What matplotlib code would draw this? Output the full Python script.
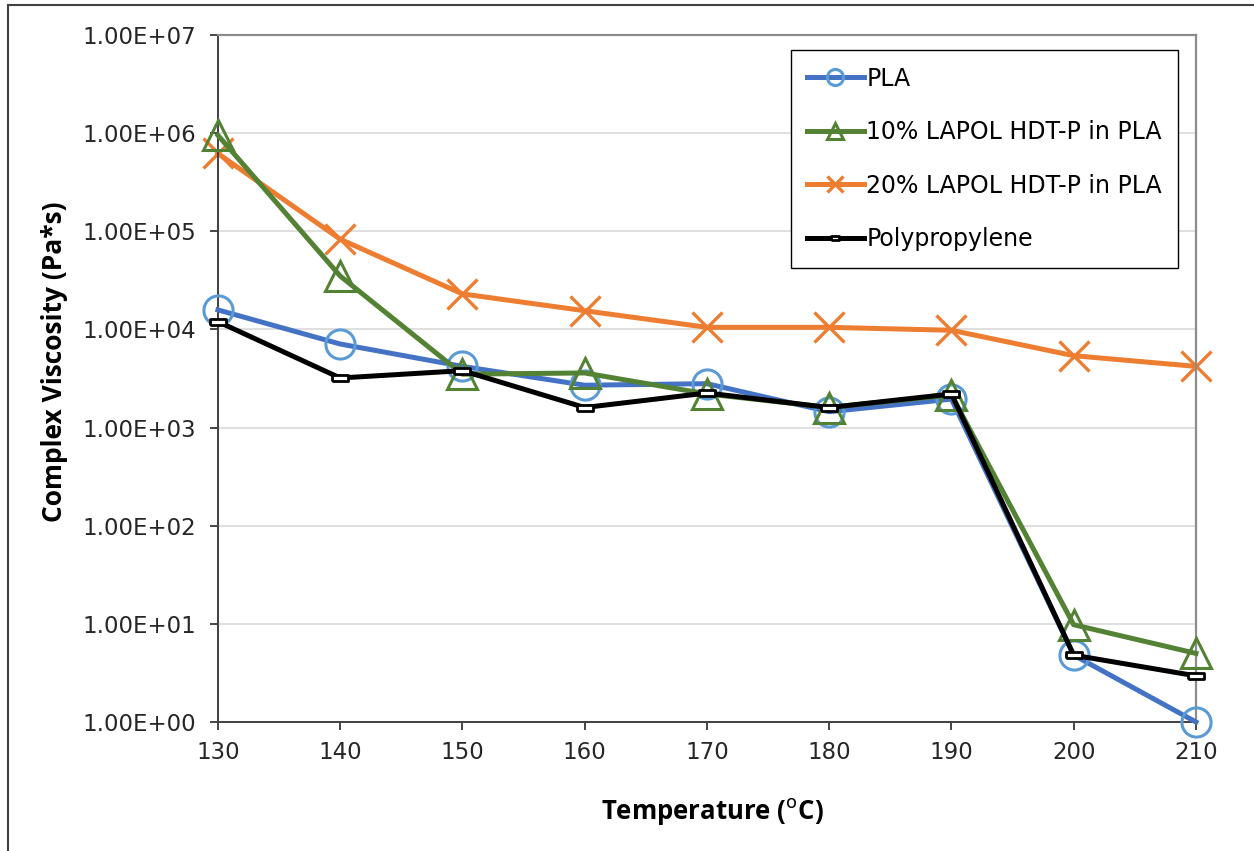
import matplotlib
matplotlib.use("Agg")
import matplotlib.pyplot as plt
from matplotlib.patches import Rectangle
from matplotlib.ticker import FixedLocator, FuncFormatter

temps = [130, 140, 150, 160, 170, 180, 190, 200, 210]
pla = [1.58e4, 7.1e3, 4.2e3, 2.7e3, 2.8e3, 1.45e3, 1.95e3, 4.8, 1.0]
lapol10 = [9.5e5, 3.5e4, 3.5e3, 3.6e3, 2.2e3, 1.6e3, 2.15e3, 9.8, 5.0]
lapol20 = [6.2e5, 8.3e4, 2.3e4, 1.55e4, 1.05e4, 1.05e4, 9.8e3, 5.4e3, 4.2e3]
pp = [1.2e4, 3.2e3, 3.8e3, 1.6e3, 2.25e3, 1.6e3, 2.2e3, 4.8, 2.95]
series_names = ["PLA", "10% LAPOL HDT-P in PLA", "20% LAPOL HDT-P in PLA", "Polypropylene"]
y_ticks = [1e0, 1e1, 1e2, 1e3, 1e4, 1e5, 1e6, 1e7]

plt.rcParams['font.family'] = ['DejaVu Sans']

fig = plt.figure(figsize=(12.54, 8.51), dpi=100)
ax = fig.add_axes([0.1738, 0.1516, 0.9537 - 0.1738, 0.9589 - 0.1516])

# outer chart border
fig.patches.append(Rectangle((0.0066, -0.05), 1.1, 1.044, transform=fig.transFigure,
                             fill=False, edgecolor='#404040', linewidth=1.5))

rect_marker = [(-1, -0.45), (1, -0.45), (1, 0.45), (-1, 0.45), (-1, -0.45)]

common = dict(lw=3.6, clip_on=False)
ax.plot(temps, pla, color='#4472C4', marker='o', ms=21, mfc='none',
        mec='#5B9BD5', mew=2.2, label=series_names[0], zorder=3, **common)
ax.plot(temps, lapol10, color='#548235', marker='^', ms=22, mfc='none',
        mec='#548235', mew=2.2, label=series_names[1], zorder=4, **common)
ax.plot(temps, lapol20, color='#ED7D31', marker='x', ms=21, mfc='none',
        mec='#ED7D31', mew=2.4, label=series_names[2], zorder=2, **common)
ax.plot(temps, pp, color='black', marker=rect_marker, ms=11, mfc='white',
        mec='black', mew=2.0, label=series_names[3], zorder=5, **common)

ax.set_yscale('log')
ax.set_ylim(1e0, 1e7)
ax.set_xlim(130, 210)
ax.set_xticks(temps)
ax.yaxis.set_major_locator(FixedLocator(y_ticks))
ax.yaxis.set_minor_locator(FixedLocator([]))
ax.yaxis.set_major_formatter(FuncFormatter(lambda v, p: "%.2E" % v))
ax.tick_params(axis='both', labelsize=16.5, colors='#262626', direction='out', length=6, width=1.2)
ax.tick_params(axis='x', pad=8)
ax.tick_params(axis='y', pad=10)
ax.grid(axis='y', color='#D9D9D9', lw=1.2)
ax.set_axisbelow(True)
for s in ['left', 'bottom']:
    ax.spines[s].set_color('#404040')
    ax.spines[s].set_linewidth(1.4)
for s in ['right', 'top']:
    ax.spines[s].set_color('#8C8C8C')
    ax.spines[s].set_linewidth(1.6)

ax.set_xlabel('Temperature ($^{\\mathrm{o}}$C)', fontsize=18.5, fontweight='bold',
              family=['Open Sans', 'DejaVu Sans'], va='center')
ax.xaxis.set_label_coords(0.506, -0.131)
ax.set_ylabel('Complex Viscosity (Pa*s)', fontsize=19, fontweight='bold',
              family=['Open Sans', 'DejaVu Sans'], va='center')
ax.yaxis.set_label_coords(-0.1667, 0.524)

leg = ax.legend(loc='upper right', bbox_to_anchor=(0.982, 0.978), fontsize=17,
                frameon=True, fancybox=False, edgecolor='black', framealpha=1,
                markerscale=0.55, handlelength=2.4, handletextpad=0.1,
                labelspacing=1.25, borderpad=0.7, borderaxespad=0)
leg.get_frame().set_linewidth(1.0)

fig.savefig('out.png', dpi=100)
